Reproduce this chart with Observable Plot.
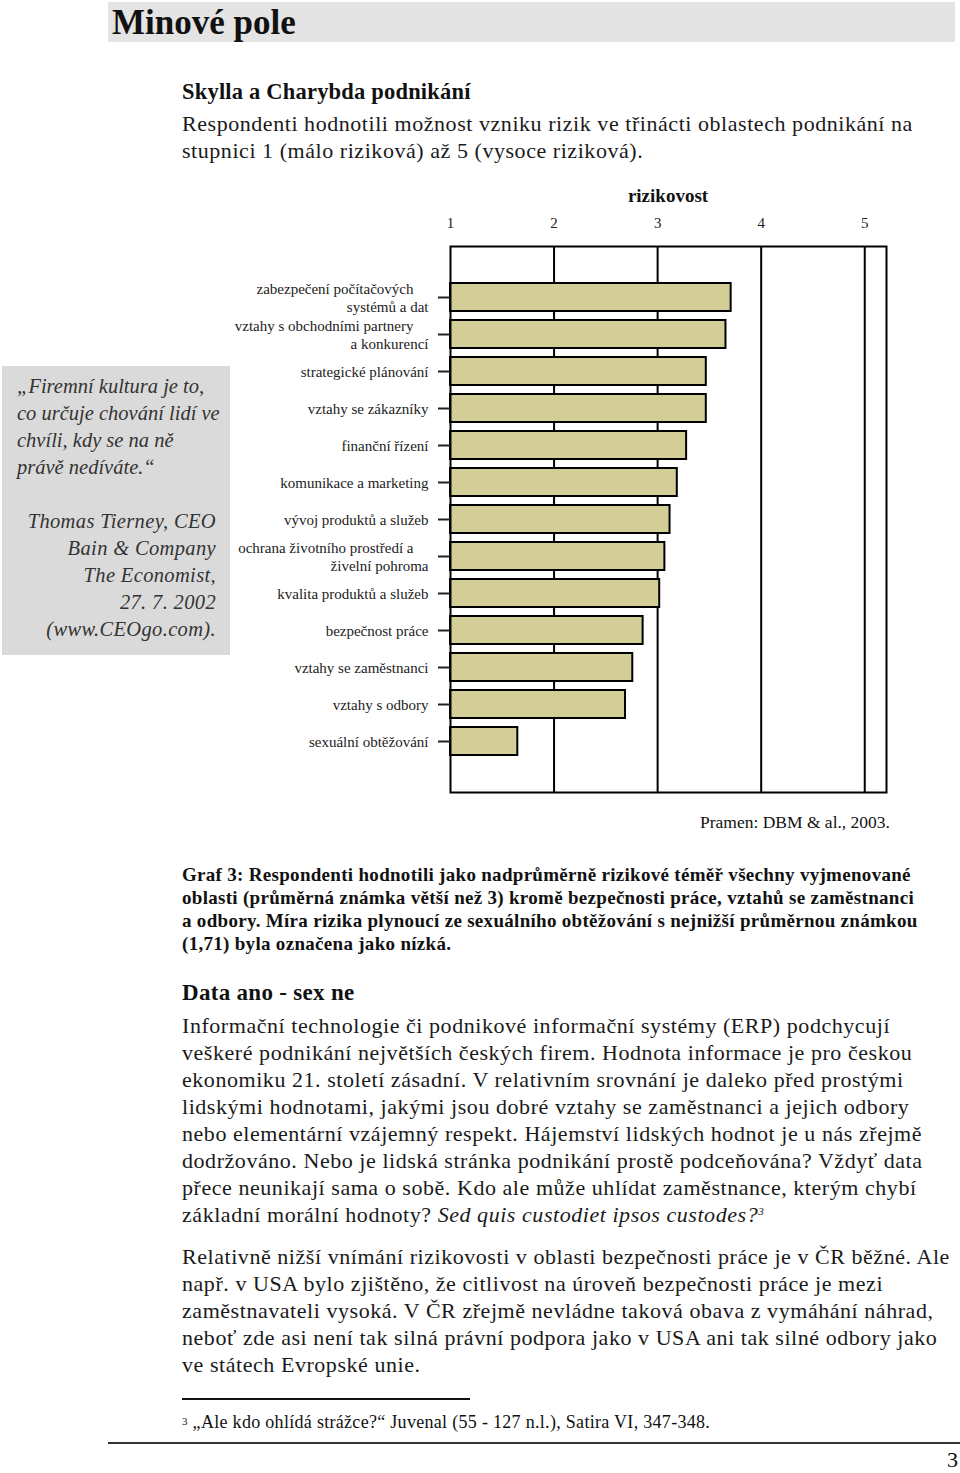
<!DOCTYPE html>
<html lang="cs">
<head>
<meta charset="utf-8">
<script src="https://cdn.jsdelivr.net/npm/d3@7"></script>
<script src="https://cdn.jsdelivr.net/npm/@observablehq/plot@0.6"></script>
<style>
  html, body { margin: 0; padding: 0; background: #fff; }
  body { width: 960px; height: 1473px; position: relative; overflow: hidden;
         font-family: "Liberation Serif", "DejaVu Serif", serif; color: #111; }
  .abs { position: absolute; white-space: nowrap; }
  .hdr { left: 108px; top: 2px; width: 847px; height: 40px; background: #e4e4e4; }
  .hdr span { position: absolute; left: 4px; top: 1px; font-size: 35px; font-weight: bold; line-height: 40px; }
  .quote { left: 2px; top: 366px; width: 228px; height: 289px; background: #dadada; }
  .qt { font-style: italic; color: #333; font-size: 20.5px; line-height: 27px; }
  .para { font-size: 22px; letter-spacing: 0.55px; line-height: 27px; color: #1a1a1a; }
  .cap { font-size: 19px; letter-spacing: 0.3px; line-height: 23px; font-weight: bold; color: #111; }
  sup.s { font-size: 11px; line-height: 0; vertical-align: 0.6em; }
  #chart { position: absolute; left: 0; top: 170px; }
</style>
</head>
<body>
<div class="abs hdr"><span>Minové pole</span></div>

<div class="abs" style="left:182px; top:78px; font-size:22.5px; letter-spacing:0.2px; font-weight:bold; line-height:27px;">Skylla a Charybda podnikání</div>
<div class="abs para" style="left:182px; top:110px;">Respondenti hodnotili možnost vzniku rizik ve třinácti oblastech podnikání na<br>stupnici 1 (málo riziková) až 5 (vysoce riziková).</div>

<div class="abs quote"></div>
<div class="abs qt" style="left:17px; top:373px;">„Firemní kultura je to,<br>co určuje chování lidí ve<br>chvíli, kdy se na ně<br>právě nedíváte.“</div>
<div class="abs qt" style="left:2px; width:214px; top:508px; text-align:right; letter-spacing:0.35px;">Thomas Tierney, CEO<br>Bain &amp; Company<br>The Economist,<br>27. 7. 2002<br>(www.CEOgo.com).</div>

<div class="abs" style="left:568px; width:200px; text-align:center; top:183px; font-size:19px; font-weight:bold; line-height:26px;">rizikovost</div>

<div id="chart"></div>

<div class="abs" style="left:590px; width:300px; text-align:right; top:810px; font-size:17.5px; line-height:24px;">Pramen: DBM &amp; al., 2003.</div>

<div class="abs cap" style="left:182px; top:863px;">Graf 3: Respondenti hodnotili jako nadprůměrně rizikové téměř všechny vyjmenované<br>oblasti (průměrná známka větší než 3) kromě bezpečnosti práce, vztahů se zaměstnanci<br>a odbory. Míra rizika plynoucí ze sexuálního obtěžování s nejnižší průměrnou známkou<br>(1,71) byla označena jako nízká.</div>

<div class="abs" style="left:182px; top:979px; font-size:23px; letter-spacing:0.3px; font-weight:bold; line-height:27px;">Data ano - sex ne</div>

<div class="abs para" style="left:182px; top:1012px;">Informační technologie či podnikové informační systémy (ERP) podchycují<br>veškeré podnikání největších českých firem. Hodnota informace je pro českou<br>ekonomiku 21. století zásadní. V relativním srovnání je daleko před prostými<br>lidskými hodnotami, jakými jsou dobré vztahy se zaměstnanci a jejich odbory<br>nebo elementární vzájemný respekt. Hájemství lidských hodnot je u nás zřejmě<br>dodržováno. Nebo je lidská stránka podnikání prostě podceňována? Vždyť data<br>přece neunikají sama o sobě. Kdo ale může uhlídat zaměstnance, kterým chybí<br>základní morální hodnoty? <i>Sed quis custodiet ipsos custodes?<sup class="s">3</sup></i></div>

<div class="abs para" style="left:182px; top:1243px;">Relativně nižší vnímání rizikovosti v oblasti bezpečnosti práce je v ČR běžné. Ale<br>např. v USA bylo zjištěno, že citlivost na úroveň bezpečnosti práce je mezi<br>zaměstnavateli vysoká. V ČR zřejmě nevládne taková obava z vymáhání náhrad,<br>neboť zde asi není tak silná právní podpora jako v USA ani tak silné odbory jako<br>ve státech Evropské unie.</div>

<div class="abs" style="left:182px; top:1398px; width:288px; height:1.5px; background:#111;"></div>
<div class="abs" style="left:182px; top:1410px; font-size:18px; letter-spacing:0.3px; line-height:24px;"><sup class="s" style="vertical-align:0.3em;">3</sup> „Ale kdo ohlídá strážce?“ Juvenal (55 - 127 n.l.), Satira VI, 347-348.</div>

<div class="abs" style="left:108px; top:1442px; width:852px; height:2px; background:#333;"></div>
<div class="abs" style="left:900px; width:58px; text-align:right; top:1446px; font-size:22px; line-height:28px;">3</div>

<script>
// ---- data ----
const categories = [
  "zabezpečení počítačových\nsystémů a dat",
  "vztahy s obchodními partnery\na konkurencí",
  "strategické plánování",
  "vztahy se zákazníky",
  "finanční řízení",
  "komunikace a marketing",
  "vývoj produktů a služeb",
  "ochrana životního prostředí a\nživelní pohroma",
  "kvalita produktů a služeb",
  "bezpečnost práce",
  "vztahy se zaměstnanci",
  "vztahy s odbory",
  "sexuální obtěžování"
];
const values = [3.71, 3.66, 3.47, 3.47, 3.28, 3.19, 3.12, 3.07, 3.02, 2.86, 2.76, 2.69, 1.65];
const xTicks = [1, 2, 3, 4, 5];
const gridValues = [2, 3, 4, 5];
const baseline = 1;
const xMax = 5.21;

const data = categories.map((c, i) => ({category: c, value: values[i]}));

const chart = Plot.plot({
  width: 960,
  height: 640,
  marginLeft: 450,
  marginRight: 74,
  marginTop: 76,
  marginBottom: 18,
  style: {fontFamily: "Liberation Serif, serif", fontSize: "15px", background: "transparent", color: "#222"},
  x: {domain: [baseline, xMax], label: null},
  y: {domain: categories, paddingInner: 0.25, paddingOuter: 0.84, label: null},
  marks: [
    Plot.ruleX(gridValues, {stroke: "#000", strokeWidth: 2}),
    Plot.barX(data, {x1: () => baseline, x2: "value", y: "category", fill: "#d3ce98", stroke: "#000", strokeWidth: 2}),
    Plot.frame({stroke: "#000", strokeWidth: 2}),
    Plot.axisX(xTicks, {anchor: "top", tickSize: 0, tickPadding: 19, label: null, fontSize: 15}),
    Plot.axisY({anchor: "left", tickSize: 12, tickPadding: 10, strokeWidth: 2, label: null, fontSize: 15,
      tickFormat: d => d.includes("\n") ? d.replace("\n", "\u2002\u2002\n") : d, lineHeight: 1.2})
  ]
});
document.getElementById("chart").appendChild(chart);
</script>
</body>
</html>
